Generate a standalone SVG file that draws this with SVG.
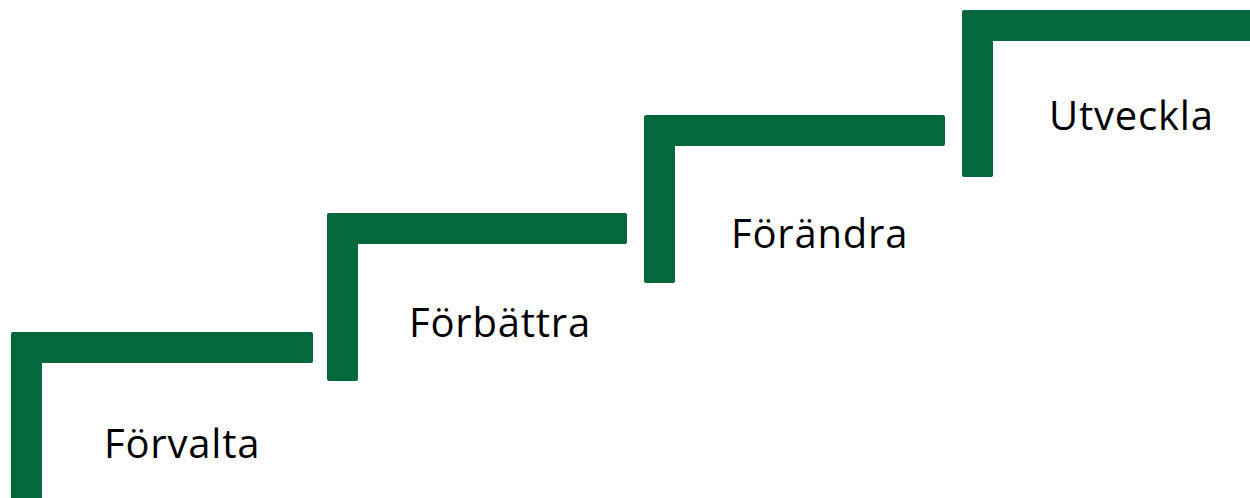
<svg xmlns="http://www.w3.org/2000/svg" width="1250" height="498" viewBox="0 0 1250 498">
<style>
.step{fill:#03683C}
.lbl{font-family:"Open Sans","Noto Sans",sans-serif;font-size:40px;letter-spacing:0.8px;fill:#000}
</style>
<rect width="1250" height="498" fill="#fff"/>
<g id="step1">
<path class="step" d="M13,332 H311 Q313,332 313,334 V361 Q313,363 311,363 H42 V498 H11 V334 Q11,332 13,332 Z"/>
<text class="lbl" x="104" y="458">Förvalta</text>
</g>
<g id="step2">
<path class="step" d="M329,213 H625 Q627,213 627,215 V242 Q627,244 625,244 H358 V379 Q358,381 356,381 H329 Q327,381 327,379 V215 Q327,213 329,213 Z"/>
<text class="lbl" x="409" y="337">Förbättra</text>
</g>
<g id="step3">
<path class="step" d="M646,115 H943 Q945,115 945,117 V144 Q945,146 943,146 H675 V281 Q675,283 673,283 H646 Q644,283 644,281 V117 Q644,115 646,115 Z"/>
<text class="lbl" x="731" y="248">Förändra</text>
</g>
<g id="step4">
<path class="step" d="M964,10 H1250 V41 H993 V175 Q993,177 991,177 H964 Q962,177 962,175 V12 Q962,10 964,10 Z"/>
<text class="lbl" x="1049" y="130">Utveckla</text>
</g>
<g id="connectors"></g>
</svg>
